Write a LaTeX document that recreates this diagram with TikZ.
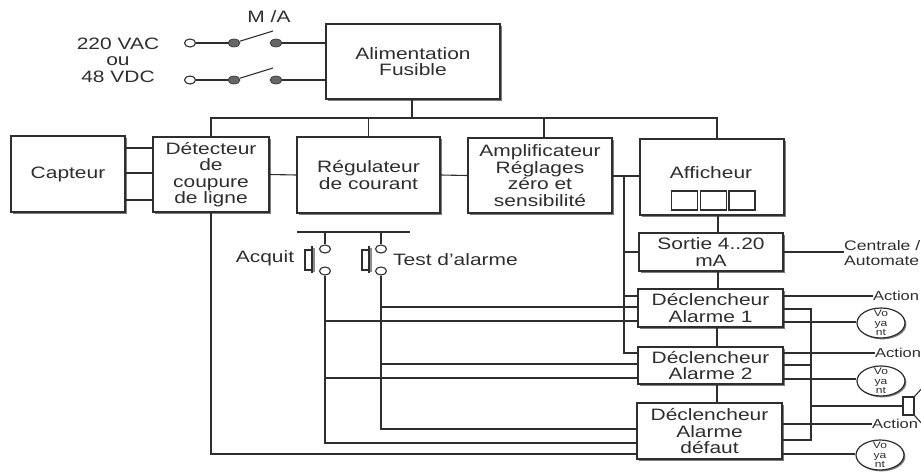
\documentclass[tikz,border=0pt]{standalone}
\usepackage{fontspec}
\setmainfont[FakeStretch=1.27]{Liberation Sans}
\usetikzlibrary{positioning, shapes.geometric, arrows.meta, calc, shadows}
\definecolor{encre}{gray}{0.18}
\tikzset{
  wire/.style={draw=encre, line width=1.1pt},
  bloc/.style={draw=encre, line width=1.2pt, fill=white, inner sep=0pt, align=center,
    drop shadow={shadow xshift=1.8pt, shadow yshift=-1.8pt, fill=black!60, opacity=0.85}},
  txt/.style={inner sep=0pt, align=center, text=encre, font=\fontsize{16.5}{16.5}\selectfont},
  sortietxt/.style={inner sep=0pt, align=left, text=encre, font=\fontsize{13.8}{15}\selectfont},
  actiontxt/.style={inner sep=0pt, text=encre, font=\fontsize{13}{13}\selectfont},
  borne/.style={ellipse, draw=encre, line width=1.1pt, fill=white, minimum width=11pt, minimum height=8pt, inner sep=0pt},
  plot/.style={ellipse, draw=encre, fill=black!60, line width=0.6pt, minimum width=12pt, minimum height=8pt, inner sep=0pt},
  voyant/.style={ellipse, draw=encre, line width=1.2pt, fill=white, minimum width=48pt, minimum height=30pt, inner sep=0pt,
    drop shadow={shadow xshift=1.4pt, shadow yshift=-1.4pt, fill=black!60, opacity=0.85}},
  voyanttxt/.style={inner sep=0pt, align=center, text=encre, font=\fontsize{9.5}{9.5}\selectfont},
}

\begin{document}
\begin{tikzpicture}[x=1pt, y=-1pt]
  \useasboundingbox (0,0) rectangle (921,474);

  % Blocs
  \node [bloc, txt, minimum width=174pt, minimum height=75pt] (Alim) at (413, 61.5) {Alimentation\\Fusible};
  \node [bloc, txt, minimum width=114pt, minimum height=76pt] (Capteur) at (68, 174) {Capteur};
  \node [bloc, txt, minimum width=116pt, minimum height=75pt] (Detecteur) at (211, 174.5) {Détecteur\\de\\coupure\\de ligne};
  \node [bloc, txt, minimum width=143pt, minimum height=76pt] (Regul) at (368.5, 175) {Régulateur\\de courant};
  \node [bloc, txt, minimum width=144pt, minimum height=75pt] (Ampli) at (540, 175.5) {Amplificateur\\Réglages\\zéro et\\sensibilité};
  \node [bloc, minimum width=144pt, minimum height=76pt] (Afficheur) at (712, 177) {};
  \node [bloc, txt, minimum width=144pt, minimum height=38pt] (Sortie) at (711, 252) {Sortie 4..20\\mA};
  \node [bloc, txt, minimum width=145pt, minimum height=38pt] (AlarmeA) at (710.5, 308) {Déclencheur\\Alarme 1};
  \node [bloc, txt, minimum width=145pt, minimum height=37pt] (AlarmeB) at (710.5, 365.5) {Déclencheur\\Alarme 2};
  \node [bloc, txt, minimum width=145pt, minimum height=56pt] (AlarmeC) at (709.5, 431) {Déclencheur\\Alarme\\défaut};

  % Afficheur
  \node [txt] (AffText) at (711, 173) {Afficheur};
  \foreach \x/\n in {684.5/A, 713.5/B, 742/C}
    \node [draw=encre, line width=1.1pt, minimum width=26pt, minimum height=19pt, inner sep=0pt] (Seg\n) at (\x, 200.5) {};

  % Textes
  \node [txt] (MA) at (269, 17) {M /A};
  \node [txt] (Tension) at (118, 60) {220 VAC\\ou\\48 VDC};
  \node [txt] (Acquit) at (265, 258) {Acquit};
  \node [txt, anchor=west] (Test) at (393, 260) {Test d'alarme};
  \node [sortietxt, anchor=west] (Centrale) at (844, 253.5) {Centrale /\\Automate};
  \node [actiontxt, anchor=west] (ActionA) at (873, 296) {Action};
  \node [actiontxt, anchor=west] (ActionB) at (875, 353) {Action};
  \node [actiontxt, anchor=west] (ActionC) at (872, 424) {Action};

  % Interrupteur M/A
  \foreach \y/\n in {43/A, 80/B} {
    \node [borne] (In\n) at (190, \y) {};
    \node [plot] (PlotG\n) at (234, \y) {};
    \node [plot] (PlotD\n) at (276, \y) {};
    \draw [wire] (In\n) -- (PlotG\n);
    \draw [wire] (PlotG\n) -- ($(PlotD\n)+(-3,-12)$);
    \draw [wire] (PlotD\n) -- (PlotD\n -| Alim.west);
  }

  % Bus d'alimentation
  \coordinate (Bus) at (412, 118);
  \coordinate (BusAmpli) at (544, 118);
  \coordinate (BusAff) at (717, 118);
  \draw [wire] (Bus |- Alim.south) -- (Bus);
  \draw [wire] (Detecteur.north) -- (Detecteur.north |- Bus) -- (BusAff) -- (BusAff |- Afficheur.north);
  \draw [wire] (Regul.north) -- (Regul.north |- Bus);
  \draw [wire] (BusAmpli) -- (BusAmpli |- Ampli.north);

  % Liaisons de la ligne
  \foreach \y in {148, 173, 200}
    \draw [wire] (Capteur.east |- 0, \y) -- (Detecteur.west |- 0, \y);
  \draw [wire] (Detecteur.east) -- (Regul.west);
  \draw [wire] (Regul.east) -- (Ampli.west);
  \draw [wire] (Ampli.east |- 0, 176) -- (Afficheur.west |- 0, 176);
  \draw [wire] (718, 215) -- (718, 233);
  \draw [wire] (718, 271) -- (718, 289);
  \draw [wire] (717, 327) -- (717, 347);
  \draw [wire] (717, 384) -- (717, 403);

  % Colonne de l'amplificateur
  \coordinate (Col) at (624, 176);
  \draw [wire] (Col) -- (Col |- 0, 353) -- (AlarmeB.west |- 0, 353);
  \draw [wire] (Col |- Sortie.west) -- (Sortie.west);
  \draw [wire] (Col |- 0, 296) -- (AlarmeA.west |- 0, 296);
  \draw [wire] (Sortie.east) -- (Centrale.west |- Sortie.east);

  % Boutons
  \coordinate (Barre) at (297, 232);
  \draw [line width=1.5pt, draw=encre] (Barre) -- (410, 232);
  \foreach \x/\n/\b in {325/Acq/305, 381/Tst/362} {
    \node [borne] (\n H) at (\x, 249) {};
    \node [borne] (\n B) at (\x, 271) {};
    \draw [wire] (\n H) -- (\n H |- Barre);
    \draw [draw=black!45, line width=1.5pt] (\b+8.8, 248) -- (\b+8.8, 272);
    \draw [draw=encre, line width=1.1pt] (\b+7, 246) -- (\b+7, 273);
    \draw [draw=encre, line width=1.1pt] (\b+7, 250) -- (\b, 250) -- (\b, 270) -- (\b+7, 270);
  }

  % Acquit et test vers les declencheurs
  \draw [wire] (AcqB) -- (AcqB |- 0, 443) -- (AlarmeC.west |- 0, 443);
  \draw [wire] (TstB) -- (TstB |- 0, 429) -- (AlarmeC.west |- 0, 429);
  \foreach \y/\n in {321/A, 378/B}
    \draw [wire] (AcqB |- 0, \y) -- (Alarme\n.west |- 0, \y);
  \foreach \y/\n in {307/A, 364/B}
    \draw [wire] (TstB |- 0, \y) -- (Alarme\n.west |- 0, \y);
  \draw [wire] (Detecteur.south) -- (Detecteur.south |- 0, 454) -- (AlarmeC.west |- 0, 454);

  % Voyants
  \foreach \x/\y/\n in {881/323/A, 881/381/B, 880/455/C} {
    \node [voyant] (Voy\n) at (\x, \y) {};
    \node [voyanttxt] (VoyTxt\n) at (Voy\n) {Vo\\ya\\nt};
  }
  \draw [wire] (AlarmeA.east |- 0, 322) -- (VoyA.west |- 0, 322);
  \draw [wire] (AlarmeB.east |- 0, 379) -- (VoyB.west |- 0, 379);
  \draw [wire] (AlarmeC.east |- 0, 454) -- (VoyC.west |- 0, 454);

  % Actions
  \draw [wire] (AlarmeA.east |- ActionA.west) -- (ActionA.west);
  \draw [wire] (AlarmeB.east |- ActionB.west) -- (ActionB.west);
  \draw [wire] (AlarmeC.east |- ActionC.west) -- (ActionC.west);

  % Sirene
  \node [draw=encre, line width=1.1pt, fill=white, minimum width=11pt, minimum height=18pt, inner sep=0pt] (Sirene) at (908.5, 406) {};
  \draw [draw=encre, line width=1.1pt] (Sirene.north east) -- (924, 386) (Sirene.south east) -- (924, 426);
  \coordinate (Ret) at (811, 309);
  \draw [wire] (AlarmeA.east |- Ret) -- (Ret) -- (Ret |- 0, 440) -- (AlarmeC.east |- 0, 440);
  \draw [wire] (AlarmeB.east |- 0, 365) -- (Ret |- 0, 365);
  \draw [wire] (Ret |- Sirene.west) -- (Sirene.west);
\end{tikzpicture}
\end{document}
